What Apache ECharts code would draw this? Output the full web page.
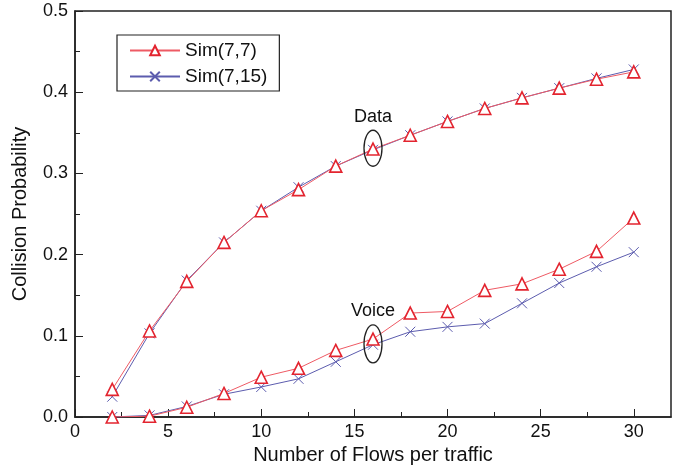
<!DOCTYPE html>
<html>
<head>
<meta charset="utf-8">
<script src="https://cdn.jsdelivr.net/npm/echarts@6/dist/echarts.min.js"></script>
<style>
  html, body { margin: 0; padding: 0; background: #fff; }
  #chart { width: 684px; height: 467px; }
</style>
</head>
<body>
<div id="chart"></div>
<script>
// flows per traffic
var flows = [2, 4, 6, 8, 10, 12, 14, 16, 18, 20, 22, 24, 26, 28, 30];
// data traffic
var dataSim77  = [0.034, 0.106, 0.167, 0.215, 0.254, 0.280, 0.309, 0.330, 0.347, 0.364, 0.380, 0.393, 0.405, 0.416, 0.425];
var dataSim715 = [0.025, 0.103, 0.168, 0.215, 0.254, 0.283, 0.309, 0.329, 0.347, 0.364, 0.380, 0.393, 0.405, 0.417, 0.428];
// voice traffic
var voiceSim77  = [0.000, 0.001, 0.012, 0.029, 0.049, 0.060, 0.082, 0.096, 0.128, 0.130, 0.156, 0.164, 0.182, 0.204, 0.245];
var voiceSim715 = [0.000, 0.002, 0.013, 0.028, 0.037, 0.047, 0.068, 0.089, 0.105, 0.111, 0.115, 0.140, 0.165, 0.185, 0.203];
var xTicks = [0, 5, 10, 15, 20, 25, 30];
var xMinor = [2.5, 7.5, 12.5, 17.5, 22.5, 27.5];

var red = '#e3242f';
var blue = '#5c5cae';
var font = 'Liberation Sans, Arial, sans-serif';

function pairs(ys) {
    return flows.map(function (x, i) { return [x, ys[i]]; });
}

var chart = echarts.init(document.getElementById('chart'));

var redStyle = {
    type: 'line',
    name: 'Sim(7,7)',
    symbol: 'triangle',
    symbolSize: 12,
    lineStyle: { color: '#ee5a64', width: 1 },
    itemStyle: { color: '#fff', borderColor: red, borderWidth: 1.6 },
    z: 3
};
var blueStyle = {
    type: 'line',
    name: 'Sim(7,15)',
    symbol: 'path://M0,0L10,10M10,0L0,10',
    symbolSize: 10,
    lineStyle: { color: blue, width: 1 },
    itemStyle: { color: 'none', borderColor: blue, borderWidth: 1 },
    z: 2
};

var series = [
    Object.assign({ data: pairs(dataSim77) }, redStyle),
    Object.assign({ data: pairs(voiceSim77) }, redStyle),
    Object.assign({ data: pairs(dataSim715) }, blueStyle),
    Object.assign({ data: pairs(voiceSim715) }, blueStyle)
];

var option = {
    animation: false,
    textStyle: { fontFamily: font },
    grid: {
        left: 75, right: 13, top: 11, bottom: 50,
        outerBoundsMode: 'none',
        show: true, borderColor: '#222', borderWidth: 1.5
    },
    legend: {
        data: ['Sim(7,7)', 'Sim(7,15)'],
        orient: 'vertical',
        left: 117, top: 35,
        itemWidth: 50, itemHeight: 12,
        itemGap: 7,
        padding: [6, 12, 5, 12],
        borderColor: '#222', borderWidth: 1.2,
        textStyle: { fontSize: 19, color: '#111', fontFamily: font }
    },
    xAxis: [{
        type: 'value',
        min: 0, max: 32,
        name: 'Number of Flows per traffic',
        nameLocation: 'middle', nameGap: 26,
        nameTextStyle: { fontSize: 20, color: '#111' },
        axisLine: { lineStyle: { color: '#222', width: 1.5 } },
        axisTick: { inside: true, length: 8, customValues: xTicks, lineStyle: { color: '#222' } },
        axisLabel: { customValues: xTicks, fontSize: 18, color: '#111', margin: 6 },
        splitLine: { show: false }
    }, {
        type: 'value',
        min: 0, max: 32,
        position: 'bottom',
        axisLine: { show: false },
        axisTick: { inside: true, length: 5, customValues: xMinor, lineStyle: { color: '#222' } },
        axisLabel: { show: false },
        splitLine: { show: false }
    }],
    yAxis: {
        type: 'value',
        min: 0, max: 0.5, interval: 0.1,
        name: 'Collision Probability',
        nameLocation: 'middle', nameGap: 45,
        nameTextStyle: { fontSize: 20, color: '#111' },
        axisLine: { show: true, lineStyle: { color: '#222', width: 1.5 } },
        axisTick: { inside: true, length: 8, lineStyle: { color: '#222' } },
        minorTick: { show: true, splitNumber: 2, length: 5, lineStyle: { color: '#222' } },
        axisLabel: {
            fontSize: 18, color: '#111', margin: 7,
            formatter: function (v) { return v.toFixed(1); }
        },
        splitLine: { show: false }
    },
    series: series
};

chart.setOption(option);

// annotations: labels and ellipses around the x=16 points
function px(x, y) { return chart.convertToPixel({ gridIndex: 0 }, [x, y]); }
var dataLbl = px(16, 0.369), dataEll = px(16, 0.331);
var voiceLbl = px(16, 0.130), voiceEll = px(16, 0.090);
chart.setOption({
    graphic: [
        { type: 'text', x: dataLbl[0], y: dataLbl[1], style: { text: 'Data', fontSize: 18, fontFamily: font, fill: '#111', align: 'center', verticalAlign: 'middle' } },
        { type: 'ellipse', shape: { cx: dataEll[0], cy: dataEll[1], rx: 9, ry: 18 }, style: { fill: 'none', stroke: '#222', lineWidth: 1.3 }, z: 10 },
        { type: 'text', x: voiceLbl[0], y: voiceLbl[1], style: { text: 'Voice', fontSize: 18, fontFamily: font, fill: '#111', align: 'center', verticalAlign: 'middle' } },
        { type: 'ellipse', shape: { cx: voiceEll[0], cy: voiceEll[1], rx: 9, ry: 19 }, style: { fill: 'none', stroke: '#222', lineWidth: 1.3 }, z: 10 }
    ]
});
</script>
</body>
</html>
